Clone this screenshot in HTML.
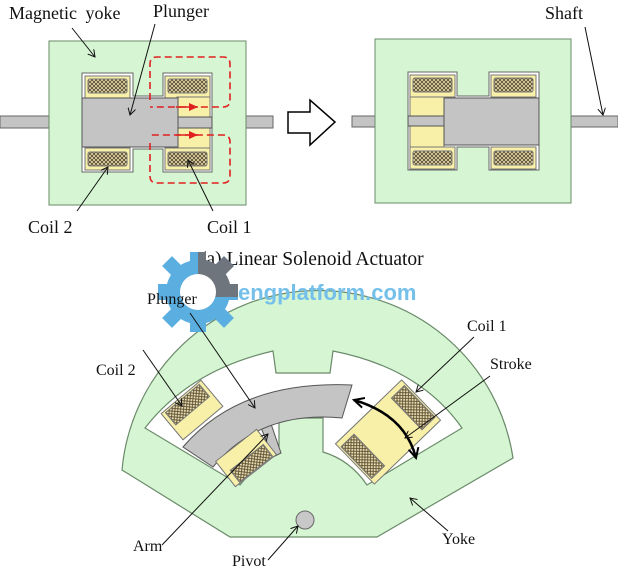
<!DOCTYPE html>
<html><head><meta charset="utf-8"><style>
html,body{margin:0;padding:0;background:#fff}
svg{display:block}
text{font-family:"Liberation Serif",serif;font-size:16px;fill:#111}
.t{font-size:18px}
</style></head><body>
<svg width="618" height="585" viewBox="0 0 618 585" xmlns="http://www.w3.org/2000/svg">
<defs>
<pattern id="h" width="4" height="4" patternUnits="userSpaceOnUse">
<rect width="4" height="4" fill="#e8e0b0"/>
<path d="M0,0L4,4M4,0L0,4" stroke="#5a4a30" stroke-width="0.9"/>
</pattern>
<marker id="a" markerWidth="8" markerHeight="8" refX="7" refY="4" orient="auto" markerUnits="userSpaceOnUse"><path d="M0,0L7,4L0,8" fill="none" stroke="#111" stroke-width="1"/></marker>
<marker id="r" markerWidth="10" markerHeight="10" refX="9" refY="5" orient="auto" markerUnits="userSpaceOnUse"><path d="M0,1L9,5L0,9z" fill="#e02020"/></marker>
<marker id="b" markerWidth="12" markerHeight="12" refX="10" refY="6" orient="auto" markerUnits="userSpaceOnUse"><path d="M0,1L10,6L0,11" fill="none" stroke="#000" stroke-width="2"/></marker>
<marker id="bs" markerWidth="12" markerHeight="12" refX="2" refY="6" orient="auto" markerUnits="userSpaceOnUse"><path d="M12,1L2,6L12,11" fill="none" stroke="#000" stroke-width="2"/></marker>
<clipPath id="gc"><rect x="198" y="245" width="60" height="52"/></clipPath>
</defs>

<!-- ===== Left linear actuator ===== -->
<rect x="0" y="116" width="50" height="12" fill="#c4c4c4" stroke="#666"/>
<rect x="246" y="116" width="27" height="12" fill="#c4c4c4" stroke="#666"/>
<rect x="49" y="41" width="197" height="164" fill="#d6f5d2" stroke="#6a8a6a"/>
<path d="M82,73H133V96H163V73H212V172H163V149H133V172H82Z" fill="#fff" stroke="#666"/>
<rect x="85" y="76" width="45" height="22" fill="#f8f0a8" stroke="#777"/>
<rect x="88" y="79" width="39" height="14" fill="url(#h)" stroke="#777" rx="2"/>
<rect x="85" y="148" width="45" height="22" fill="#f8f0a8" stroke="#777"/>
<rect x="88" y="152" width="39" height="14" fill="url(#h)" stroke="#777" rx="2"/>
<rect x="165" y="76" width="45" height="22" fill="#f8f0a8" stroke="#777"/>
<rect x="168" y="79" width="39" height="14" fill="url(#h)" stroke="#777" rx="2"/>
<rect x="165" y="148" width="45" height="22" fill="#f8f0a8" stroke="#777"/>
<rect x="168" y="152" width="39" height="14" fill="url(#h)" stroke="#777" rx="2"/>
<rect x="177" y="97" width="33" height="51" fill="#f8f0a8" stroke="#777"/>
<rect x="82" y="98" width="96" height="49" fill="#c4c4c4" stroke="#555"/>
<rect x="178" y="117" width="34" height="11" fill="#c4c4c4" stroke="#555"/>
<path d="M150,100V64Q150,57 157,57H223Q230,57 230,64V100Q230,107 223,107H150" fill="none" stroke="#e02020" stroke-width="1.6" stroke-dasharray="7,4"/>
<path d="M176,107H198" stroke="#e02020" stroke-width="1.6" marker-end="url(#r)"/>
<path d="M150,143V176Q150,183 157,183H223Q230,183 230,176V142Q230,135 223,135H150" fill="none" stroke="#e02020" stroke-width="1.6" stroke-dasharray="7,4"/>
<path d="M176,135H198" stroke="#e02020" stroke-width="1.6" marker-end="url(#r)"/>

<!-- hollow arrow -->
<polygon points="288,112 310,112 310,100 335,122 310,145 310,133 288,133" fill="#fff" stroke="#000" stroke-width="1.5"/>

<!-- ===== Right linear actuator ===== -->
<rect x="352" y="116" width="24" height="11" fill="#c4c4c4" stroke="#666"/>
<rect x="570" y="116" width="48" height="11" fill="#c4c4c4" stroke="#666"/>
<rect x="375" y="39" width="196" height="164" fill="#d6f5d2" stroke="#6a8a6a"/>
<path d="M408,72H457V96H489V72H539V170H489V147H457V170H408Z" fill="#fff" stroke="#666"/>
<rect x="410" y="75" width="45" height="22" fill="#f8f0a8" stroke="#777"/>
<rect x="413" y="78" width="39" height="14" fill="url(#h)" stroke="#777" rx="2"/>
<rect x="410" y="147" width="45" height="22" fill="#f8f0a8" stroke="#777"/>
<rect x="413" y="151" width="39" height="14" fill="url(#h)" stroke="#777" rx="2"/>
<rect x="491" y="75" width="45" height="22" fill="#f8f0a8" stroke="#777"/>
<rect x="494" y="78" width="39" height="14" fill="url(#h)" stroke="#777" rx="2"/>
<rect x="491" y="147" width="45" height="22" fill="#f8f0a8" stroke="#777"/>
<rect x="494" y="151" width="39" height="14" fill="url(#h)" stroke="#777" rx="2"/>
<rect x="410" y="97" width="34" height="50" fill="#f8f0a8" stroke="#777"/>
<rect x="408" y="116" width="36" height="10" fill="#c4c4c4" stroke="#555"/>
<rect x="444" y="98" width="95" height="47" fill="#c4c4c4" stroke="#555"/>

<!-- top labels -->
<text class="t" x="9" y="19" style="word-spacing:4px">Magnetic yoke</text>
<text class="t" x="153" y="17">Plunger</text>
<text class="t" x="28" y="233">Coil 2</text>
<text class="t" x="207" y="233">Coil 1</text>
<text class="t" x="545" y="19">Shaft</text>
<line x1="72" y1="28" x2="95" y2="57" stroke="#111" marker-end="url(#a)"/>
<line x1="155" y1="24" x2="130" y2="115" stroke="#111" marker-end="url(#a)"/>
<line x1="77" y1="211" x2="108" y2="167" stroke="#111" marker-end="url(#a)"/>
<line x1="213" y1="211" x2="188" y2="160" stroke="#111" marker-end="url(#a)"/>
<line x1="585" y1="27" x2="603" y2="115" stroke="#111" marker-end="url(#a)"/>

<text x="200" y="265" style="font-size:19.5px">(a) Linear Solenoid Actuator</text>

<!-- ===== Rotary actuator ===== -->
<path d="M122,470A197,197 0 0 1 513,458L377,537H230Z" fill="#d6f5d2" stroke="#6a8a6a" stroke-width="1.2"/>
<path d="M145,428Q190,370 273,351L276,373H330L333,351Q420,368 462,428L367,485Q350,460 323,452V418H279V452Q258,462 240,485Z" fill="#fff" stroke="#6a8a6a" stroke-width="1.2"/>

<g transform="translate(192,410) rotate(-40)">
<rect x="-26" y="-17" width="52" height="34" fill="#f8f0a8" stroke="#777"/>
<rect x="-22" y="-15" width="44" height="16" fill="url(#h)" stroke="#777"/>
</g>
<path d="M259,423L270,421L281,453L273,457Z" fill="#c4c4c4" stroke="#555"/>
<path d="M183,447Q240,380 352,385L342,418Q260,410 213,467Z" fill="#c4c4c4" stroke="#555"/>
<g transform="translate(246,458) rotate(-38)">
<rect x="-26" y="-16" width="52" height="32" fill="#f8f0a8" stroke="#777"/>
<rect x="-20" y="0" width="42" height="15" fill="url(#h)" stroke="#777"/>
</g>
<g transform="translate(388,432) rotate(-44)">
<rect x="-46" y="-28" width="92" height="56" fill="#f8f0a8" stroke="#777"/>
<rect x="-44" y="-22" width="18" height="44" fill="url(#h)" stroke="#777"/>
<rect x="26" y="-22" width="18" height="44" fill="url(#h)" stroke="#777"/>
</g>
<circle cx="305" cy="520" r="9" fill="#c8c8c8" stroke="#666"/>
<path d="M354,400Q405,415 416,458" fill="none" stroke="#000" stroke-width="2.5" marker-end="url(#b)" marker-start="url(#bs)"/>

<!-- watermark -->
<g>
<g fill="#5aaee0">
<circle cx="198" cy="292" r="32"/>
<rect x="190" y="252" width="16" height="12"/><rect x="190" y="320" width="16" height="12"/>
<rect x="158" y="284" width="12" height="16"/><rect x="226" y="284" width="12" height="16"/>
<rect x="165" y="259" width="14" height="14" transform="rotate(45 172 266)"/>
<rect x="217" y="259" width="14" height="14" transform="rotate(45 224 266)"/>
<rect x="165" y="311" width="14" height="14" transform="rotate(45 172 318)"/>
<rect x="217" y="311" width="14" height="14" transform="rotate(45 224 318)"/>
</g>
<g clip-path="url(#gc)" fill="#6e757d"><circle cx="198" cy="292" r="33"/><rect x="226" y="284" width="12" height="16"/><rect x="217" y="259" width="14" height="14" transform="rotate(45 224 266)"/><rect x="190" y="252" width="16" height="12"/></g>
<circle cx="198" cy="292" r="18" fill="#fff"/>
<text x="238" y="300" style="font-family:'Liberation Sans',sans-serif;font-weight:bold;font-size:22px;fill:#74c0ea">engplatform.com</text>
</g>

<!-- bottom labels -->
<text x="147" y="304">Plunger</text>
<text x="96" y="375">Coil 2</text>
<text x="467" y="331">Coil 1</text>
<text x="490" y="369">Stroke</text>
<text x="133" y="551">Arm</text>
<text x="232" y="566">Pivot</text>
<text x="442" y="544">Yoke</text>
<line x1="190" y1="313" x2="255" y2="408" stroke="#111" marker-end="url(#a)"/>
<line x1="143" y1="350" x2="182" y2="406" stroke="#111" marker-end="url(#a)"/>
<line x1="474" y1="337" x2="416" y2="392" stroke="#111" marker-end="url(#a)"/>
<line x1="490" y1="376" x2="405" y2="438" stroke="#111" marker-end="url(#a)"/>
<line x1="162" y1="545" x2="268" y2="434" stroke="#111" marker-end="url(#a)"/>
<line x1="268" y1="560" x2="298" y2="526" stroke="#111" marker-end="url(#a)"/>
<line x1="448" y1="531" x2="410" y2="498" stroke="#111" marker-end="url(#a)"/>
</svg>
</body></html>
